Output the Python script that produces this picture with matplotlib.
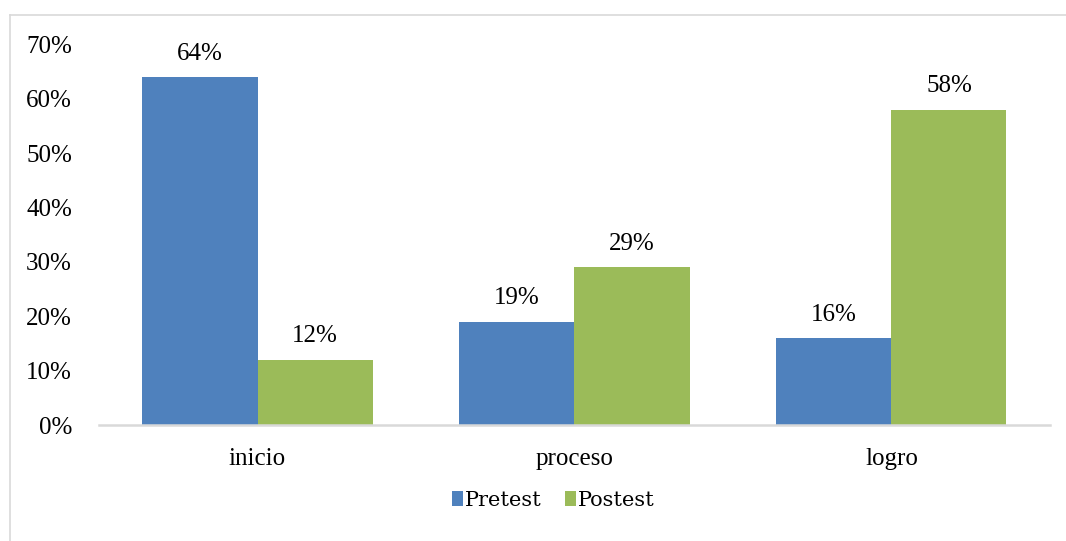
import numpy as np
import matplotlib
matplotlib.use("Agg")
import matplotlib.pyplot as plt
from matplotlib.lines import Line2D

# niveles de logro, pretest vs postest
categorias = ["inicio", "proceso", "logro"]
pretest = [64, 19, 16]
postest = [12, 29, 58]
series = ["Pretest", "Postest"]
colores = ["#4f81bd", "#9bbb59"]

plt.rcParams["font.family"] = ["Liberation Serif", "DejaVu Serif"]

fig = plt.figure(figsize=(10.66, 5.41), dpi=100)
ax = fig.add_axes([0.0929, 0.2144, 0.892, 0.7035])

x = np.arange(len(categorias))
ancho = 0.363
b1 = ax.bar(x - ancho / 2, pretest, ancho, color=colores[0], label=series[0])
b2 = ax.bar(x + ancho / 2, postest, ancho, color=colores[1], label=series[1])

for barras, valores in ((b1, pretest), (b2, postest)):
    for b, v in zip(barras, valores):
        ax.annotate(f"{v}%", (b.get_x() + b.get_width() / 2, v),
                    xytext=(0, 9), textcoords="offset points",
                    ha="center", va="bottom", fontsize=18)

ax.set_xlim(-0.5, len(categorias) - 0.5)
ax.set_ylim(0, 70)
ax.set_yticks(range(0, 71, 10))
ax.set_yticklabels([f"{t}%" for t in range(0, 71, 10)], fontsize=18)
ax.set_xticks(x)
ax.set_xticklabels(categorias, fontsize=18)
ax.tick_params(axis="y", length=0, pad=19.5)
ax.tick_params(axis="x", length=0, pad=16.5)

for s in ["top", "right", "left"]:
    ax.spines[s].set_visible(False)
ax.spines["bottom"].set_color("#d9d9d9")
ax.spines["bottom"].set_linewidth(1.8)

leg = fig.legend(loc="center", bbox_to_anchor=(0.519, 0.075), ncol=2, frameon=False,
                 handlelength=0.55, handleheight=0.75, handletextpad=0.1,
                 columnspacing=1.1, prop={"family": "DejaVu Serif", "size": 15})

# marco exterior (solo arriba e izquierda)
fig.add_artist(Line2D([10 / 1066, 1.0], [1 - 15 / 541, 1 - 15 / 541],
                      transform=fig.transFigure, color="#d9d9d9", lw=1.2))
fig.add_artist(Line2D([10 / 1066, 10 / 1066], [0, 1 - 15 / 541],
                      transform=fig.transFigure, color="#d9d9d9", lw=1.2))

fig.savefig("out.png", dpi=100)
